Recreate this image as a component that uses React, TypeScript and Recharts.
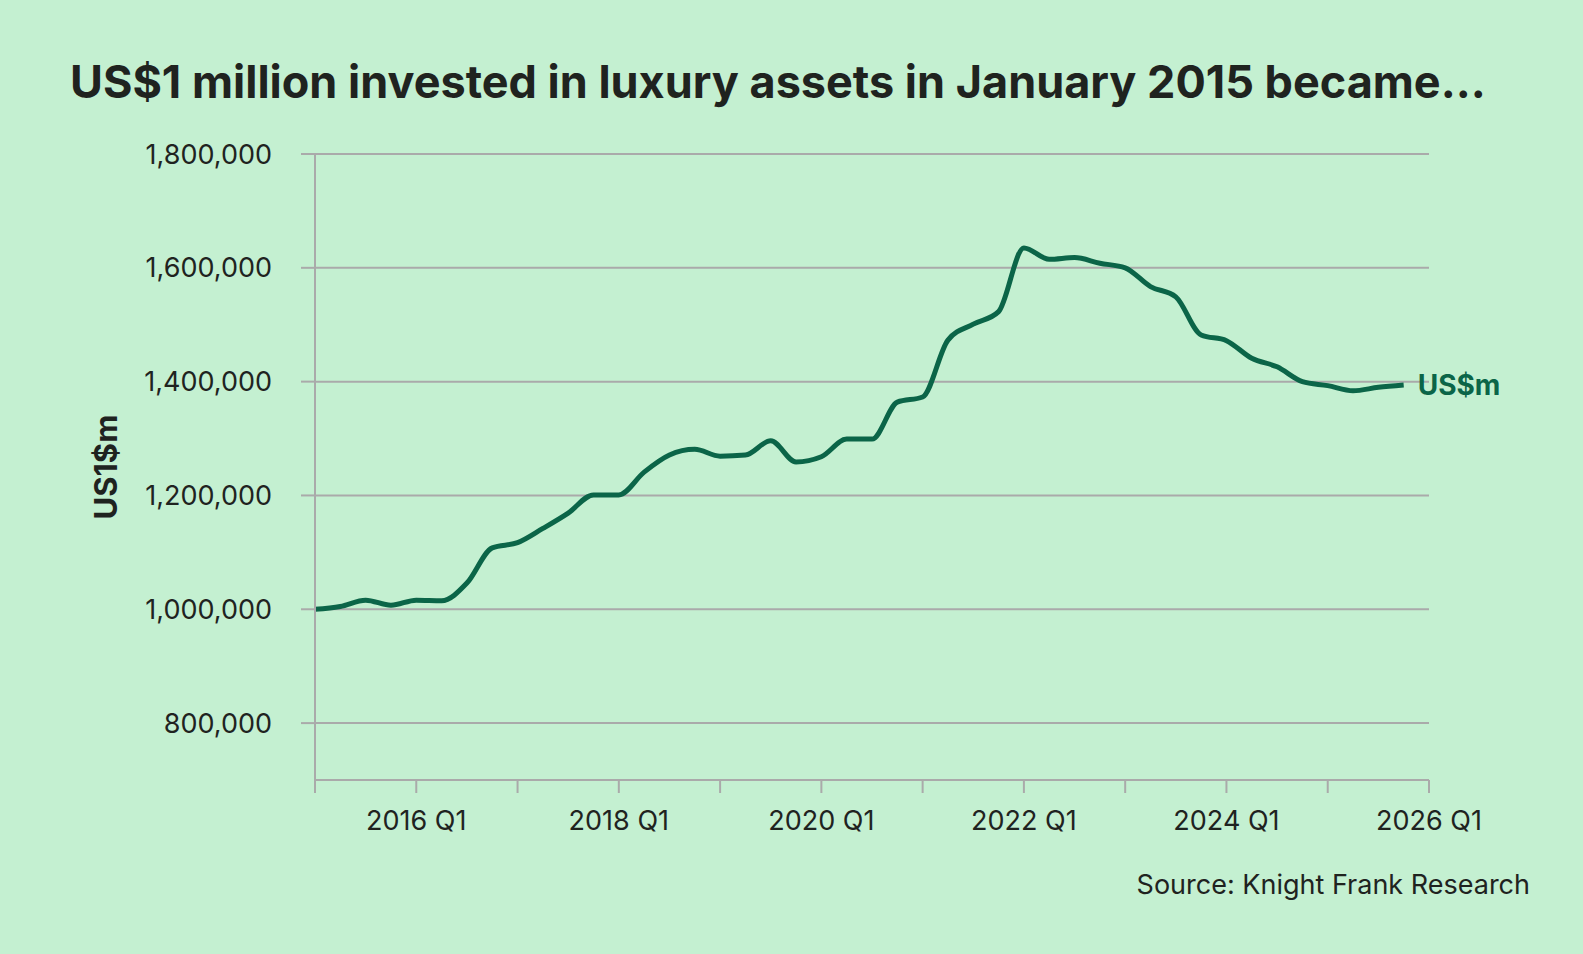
import { LineChart, Line, XAxis, YAxis, CartesianGrid, Label, LabelList } from "recharts"

// quarterly value of US$1m invested in Jan 2015
const years = [2015, 2016, 2017, 2018, 2019, 2020, 2021, 2022, 2023, 2024, 2025]
const quarterNames = ["Q1", "Q2", "Q3", "Q4"]
const quarters = years.flatMap(y => quarterNames.map(q => `${y} ${q}`))

const values = [
  1000000, 1005000, 1016000, 1007000,
  1016000, 1015000, 1046000, 1108000,
  1117000, 1142000, 1169000, 1201000,
  1201000, 1241000, 1271000, 1281000,
  1269000, 1271000, 1296000, 1259000,
  1268000, 1299000, 1299000, 1364000,
  1373000, 1473000, 1501000, 1523000,
  1635000, 1615000, 1618000, 1608000,
  1600000, 1567000, 1549000, 1482000,
  1472000, 1441000, 1426000, 1400000,
  1393000, 1384000, 1390000, 1394000,
]

const axisQuarters = [...quarters, "2026 Q1"]
const xTickLabels = ["2015 Q1", "2016 Q1", "2017 Q1", "2018 Q1", "2019 Q1", "2020 Q1", "2021 Q1", "2022 Q1", "2023 Q1", "2024 Q1", "2025 Q1", "2026 Q1"]
const shownXLabels = ["2016 Q1", "2018 Q1", "2020 Q1", "2022 Q1", "2024 Q1", "2026 Q1"]
const yTicks = [800000, 1000000, 1200000, 1400000, 1600000, 1800000]

const data = quarters.map((q, i) => ({ idx: i, quarter: q, value: values[i] }))
const xTicks = xTickLabels.map(l => axisQuarters.indexOf(l))

const BG = "#c4f0d1"
const GREEN = "#0b6548"
const GREY = "#aaaaaa"
const INK = "#1f231f"
const FONT = "Inter, 'Noto Sans', sans-serif"

const EndLabel = (props: any) => {
  const { x, y, index } = props
  if (index !== values.length - 1) return null
  return (
    <text x={x + 14} y={y} dominantBaseline="central" fill={GREEN} fontSize={28} fontWeight={700} fontFamily={FONT}>
      US$m
    </text>
  )
}

const AxisTitle = (props: any) => {
  const { x, y, height } = props.viewBox
  const cx = x + 105
  const cy = y + height / 2
  return (
    <text x={cx} y={cy} transform={`rotate(-90, ${cx}, ${cy})`} textAnchor="middle" dominantBaseline="central"
      fill={INK} fontSize={31} fontWeight={700} fontFamily={FONT}>
      US1$m
    </text>
  )
}

export default function App() {
  return (
    <div style={{ position: "absolute", left: 0, top: 0, width: 1583, height: 954, background: BG, fontFamily: FONT, overflow: "hidden" }}>
      <div style={{ position: "absolute", left: 70, top: 59, fontSize: 45, lineHeight: "45px", fontWeight: 700, color: INK, whiteSpace: "nowrap" }}>
        US$1 million invested in luxury assets in January 2015 became...
      </div>

      <LineChart width={1583} height={954} data={data} margin={{ top: 154, right: 154, left: 0, bottom: 144 }}>
        <CartesianGrid horizontal={true} vertical={false} stroke={GREY} strokeWidth={2} />
        <XAxis
          type="number"
          dataKey="idx"
          domain={[0, axisQuarters.length - 1]}
          ticks={xTicks}
          interval={0}
          tickFormatter={(v: number) => (shownXLabels.includes(axisQuarters[v]) ? axisQuarters[v] : "")}
          stroke={GREY}
          strokeWidth={2}
          tickSize={13}
          tickMargin={18}
          tick={{ fill: INK, fontSize: 27, fontFamily: FONT }}
        />
        <YAxis
          type="number"
          domain={[700000, 1800000]}
          ticks={yTicks}
          interval={0}
          width={315}
          tickFormatter={(v: number) => v.toLocaleString("en-US")}
          stroke={GREY}
          strokeWidth={2}
          tickSize={14}
          tickMargin={29}
          tick={{ fill: INK, fontSize: 27, fontFamily: FONT }}
        >
          <Label content={AxisTitle} />
        </YAxis>
        <Line
          type="monotone"
          dataKey="value"
          stroke={GREEN}
          strokeWidth={5}
          dot={false}
          activeDot={false}
          isAnimationActive={false}
        >
          <LabelList dataKey="value" content={EndLabel} />
        </Line>
      </LineChart>

      <div style={{ position: "absolute", right: 1583 - 1530, top: 871, fontSize: 27, lineHeight: "27px", color: INK, whiteSpace: "nowrap" }}>
        Source: Knight Frank Research
      </div>
    </div>
  )
}
